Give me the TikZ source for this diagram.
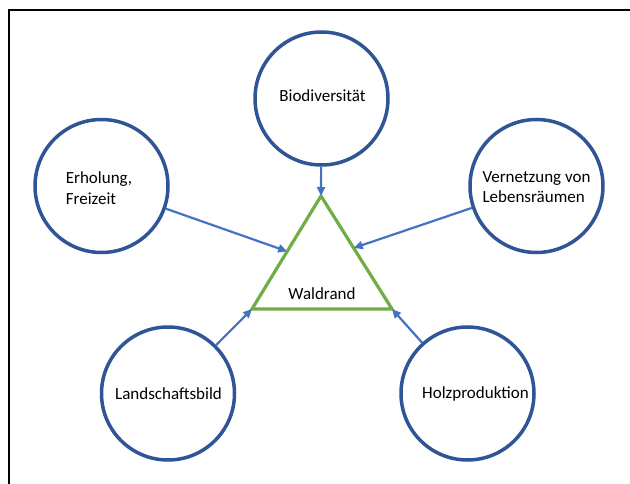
\documentclass[tikz,border=0pt]{standalone}
\usepackage{fontspec}
\setmainfont{Carlito}
\usetikzlibrary{arrows.meta,calc}
\definecolor{circblue}{HTML}{2F5597}
\definecolor{arrblue}{HTML}{4472C4}
\definecolor{trigreen}{HTML}{70AD47}
\tikzset{
  topic/.style={circle, draw=circblue, line width=3.5pt, minimum size=133pt, inner sep=0pt},
  lbl/.style={font=\fontsize{17}{20.5}\selectfont, align=left, inner sep=0pt, text=black},
  link/.style={draw=arrblue, line width=2.2pt, -{Triangle[length=9pt,width=8pt]}},
  frameline/.style={draw=black, line width=1.5pt}
}
\begin{document}
\begin{tikzpicture}[x=1pt,y=-1pt]
\useasboundingbox (0,0) rectangle (630,484);
\fill[white] (0,0) rectangle (630,484);
\coordinate (fbl) at (9,490);
\coordinate (ftl) at (9,10);
\coordinate (ftr) at (636,10);
\draw[frameline] (fbl) -- (ftl) -- (ftr);

\node[topic] (bio) at (321.5,98.5) {};
\node[topic] (erh) at (101.5,186) {};
\node[topic] (ver) at (536.5,186) {};
\node[topic] (lan) at (168,393.5) {};
\node[topic] (hol) at (467.5,393.5) {};

\node[lbl] (tbio) at (322.5,96) {Biodiversität};
\node[lbl] (terh) at (99,188) {Erholung,\\Freizeit};
\node[lbl] (tver) at (536.5,187) {Vernetzung von\\Lebensräumen};
\node[lbl] (tlan) at (168.5,394) {Landschaftsbild};
\node[lbl] (thol) at (475.5,394) {Holzproduktion};

\coordinate (A) at (321,196);
\coordinate (BL) at (252,309);
\coordinate (BR) at (392,309);
\draw[draw=trigreen, line width=3.2pt] (A) -- (BL) -- (BR) -- cycle;
\node[lbl] (wald) at (322,294) {Waldrand};

\coordinate (tl) at ($(A)!0.49!(BL)$);
\coordinate (tr) at ($(A)!0.46!(BR)$);

\draw[link] (bio) -- (A);
\draw[link] (erh) -- (tl);
\draw[link] (ver) -- (tr);
\draw[link] (lan) -- (BL);
\draw[link] (hol) -- (BR);
\end{tikzpicture}
\end{document}
